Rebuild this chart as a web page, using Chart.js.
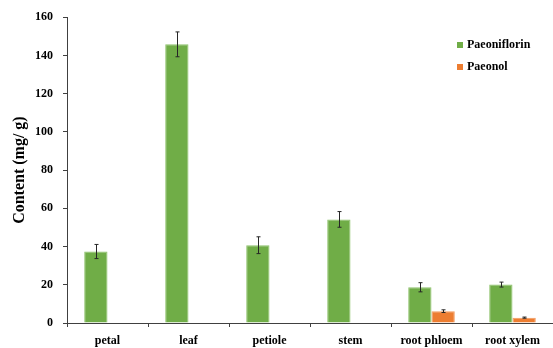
<!DOCTYPE html>
<html>
<head>
<meta charset="utf-8">
<script src="https://cdn.jsdelivr.net/npm/chart.js@4/dist/chart.umd.min.js"></script>
<style>
  html, body { margin: 0; padding: 0; background: #fff; }
  #wrap { width: 553px; height: 348px; position: relative; }
</style>
</head>
<body>
<div id="wrap"><canvas id="c" width="553" height="348"></canvas></div>
<script>
// Tissues sampled
const categories = ['petal', 'leaf', 'petiole', 'stem', 'root phloem', 'root xylem'];

// Mean content (mg/g) and standard deviation per tissue
const paeoniflorin    = [37.4, 145.8, 40.7, 54.2, 18.7, 20.1];
const paeoniflorinErr = [3.7, 6.5, 4.4, 4.1, 2.4, 1.3];
const paeonol         = [null, null, null, null, 6.2, 2.8];
const paeonolErr      = [null, null, null, null, 0.7, 0.3];

const yTicks = [0, 20, 40, 60, 80, 100, 120, 140, 160];

const serif = "'Liberation Serif', 'Times New Roman', serif";
const errors = [paeoniflorinErr, paeonolErr];

// Draws +/- error whiskers with caps on each bar
const errorBars = {
  id: 'errorBars',
  afterDatasetsDraw(chart) {
    const ctx = chart.ctx;
    const y = chart.scales.y;
    ctx.save();
    ctx.strokeStyle = '#262626';
    ctx.lineWidth = 1;
    chart.data.datasets.forEach((ds, di) => {
      const meta = chart.getDatasetMeta(di);
      meta.data.forEach((bar, i) => {
        const v = ds.data[i], e = errors[di][i];
        if (v == null || e == null) return;
        const x = Math.round(bar.x) + 0.5;
        const top = y.getPixelForValue(v + e);
        const bot = y.getPixelForValue(v - e);
        ctx.beginPath();
        ctx.moveTo(x, top); ctx.lineTo(x, bot);
        ctx.moveTo(x - 2, top); ctx.lineTo(x + 2, top);
        ctx.moveTo(x - 2, bot); ctx.lineTo(x + 2, bot);
        ctx.stroke();
      });
    });
    ctx.restore();
  }
};

// Legend drawn inside the plot area, top right
const insideLegend = {
  id: 'insideLegend',
  afterDraw(chart) {
    const ctx = chart.ctx;
    ctx.save();
    ctx.font = 'bold 12px ' + serif;
    ctx.textBaseline = 'middle';
    chart.data.datasets.forEach((ds, i) => {
      const cy = 45 + i * 22;
      ctx.fillStyle = ds.backgroundColor;
      ctx.fillRect(457, cy - 3, 6, 6);
      ctx.fillStyle = '#000';
      ctx.fillText(ds.label, 467, cy);
    });
    ctx.restore();
  }
};

new Chart(document.getElementById('c'), {
  type: 'bar',
  data: {
    labels: categories,
    datasets: [
      { label: 'Paeoniflorin', data: paeoniflorin, backgroundColor: '#70AD47',
        borderColor: '#8DC26A', borderWidth: 1 },
      { label: 'Paeonol', data: paeonol, backgroundColor: '#ED7D31',
        borderColor: '#F29A5E', borderWidth: 1 }
    ]
  },
  options: {
    responsive: false,
    animation: false,
    devicePixelRatio: 1,
    categoryPercentage: 0.575,
    barPercentage: 1,
    layout: { padding: { top: 15, right: 0, left: 0, bottom: 0 } },
    plugins: { legend: { display: false }, tooltip: { enabled: false } },
    scales: {
      x: {
        offset: true,
        grid: { offset: true, drawOnChartArea: false, drawTicks: true, tickLength: 4, color: '#404040' },
        border: { color: '#404040', width: 1 },
        ticks: { color: '#000', font: { family: serif, size: 12, weight: 'bold' }, padding: 7, maxRotation: 0 },
        afterFit(s) { s.height = 25; }
      },
      y: {
        min: 0, max: 160,
        afterBuildTicks(s) { s.ticks = yTicks.map(v => ({ value: v })); },
        grid: { drawOnChartArea: false, drawTicks: true, tickLength: 4, color: '#404040' },
        border: { color: '#404040', width: 1 },
        ticks: { color: '#000', font: { family: serif, size: 12, weight: 'bold' }, padding: 10 },
        title: { display: true, text: 'Content (mg/ g)', color: '#000',
                 font: { family: serif, size: 16, weight: 'bold' }, padding: { top: 10, bottom: 0 } },
        afterFit(s) { s.width = 67; }
      }
    }
  },
  plugins: [errorBars, insideLegend]
});
</script>
</body>
</html>
